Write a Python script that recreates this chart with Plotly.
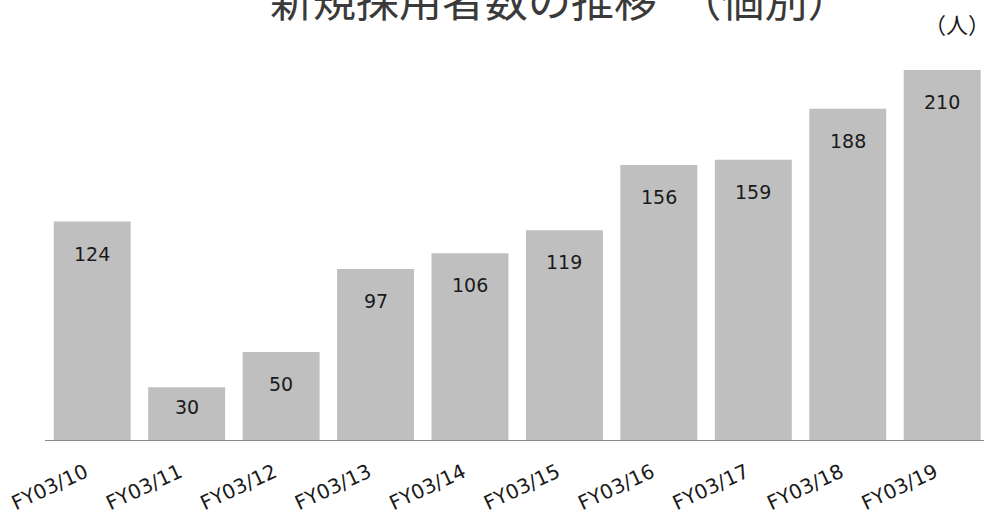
import plotly.graph_objects as go

# Fiscal years and number of new hires (non-consolidated)
categories = ["FY03/10", "FY03/11", "FY03/12", "FY03/13", "FY03/14",
              "FY03/15", "FY03/16", "FY03/17", "FY03/18", "FY03/19"]
hires = [124, 30, 50, 97, 106, 119, 156, 159, 188, 210]

title_text = "新規採用者数の推移　（個別）"
unit_text = "（人）"

W, H = 984, 515
M_L, M_R, M_T, M_B = 45, 0, 40, 75
Y_MAX = 227
plot_h = H - M_T - M_B
px_per_unit = plot_h / Y_MAX
CAT_PX = 94.44  # horizontal pixels per category slot

fig = go.Figure(
    go.Bar(
        x=list(range(len(categories))),
        y=hires,
        marker=dict(color="#bfbfbf", line=dict(width=0)),
        width=0.815,
        hoverinfo="skip",
    )
)

# value labels sit inside each bar, near its top
annotations = []
for i, v in enumerate(hires):
    bar_px = v * px_per_unit
    shift = min(32, bar_px * 0.38)
    annotations.append(dict(
        x=i, y=v, xref="x", yref="y", text=str(v), showarrow=False,
        yanchor="middle", xanchor="center", yshift=-shift,
        font=dict(family="DejaVu Sans", size=19, color="#1a1a1a"),
    ))

# chart title (runs off the top edge)
annotations.append(dict(
    x=(560 - M_L) / (W - M_L - M_R), y=(H - M_B + 2) / plot_h,
    xref="paper", yref="paper", text=title_text, showarrow=False,
    xanchor="center", yanchor="middle",
    font=dict(family="Noto Sans CJK JP", size=43, color="#3a3a3a"),
))
# unit label
annotations.append(dict(
    x=(957 - M_L) / (W - M_L - M_R), y=(H - M_B - 23) / plot_h,
    xref="paper", yref="paper", text=unit_text, showarrow=False,
    xanchor="center", yanchor="middle",
    font=dict(family="Noto Sans CJK JP", size=22, color="#1a1a1a"),
))

# slanted labels end slightly left of each bar's centre
label_offset = 7 / CAT_PX

fig.update_layout(
    width=W, height=H,
    margin=dict(l=M_L, r=M_R, t=M_T, b=M_B),
    paper_bgcolor="white", plot_bgcolor="white",
    showlegend=False,
    annotations=annotations,
    xaxis=dict(
        tickmode="array",
        tickvals=[i - label_offset for i in range(len(categories))],
        ticktext=categories,
        range=[-0.5, -0.5 + (W - M_L - M_R) / CAT_PX],
        tickangle=-25,
        tickfont=dict(family="DejaVu Sans", size=20, color="#1a1a1a"),
        showline=True, linecolor="#8c8c8c", linewidth=1,
        showgrid=False, zeroline=False, ticks="",
        ticklabelstandoff=12,
        automargin=False,
    ),
    yaxis=dict(
        range=[0, Y_MAX], visible=False, showgrid=False, zeroline=False,
        automargin=False,
    ),
)

fig.write_html("out.html")
